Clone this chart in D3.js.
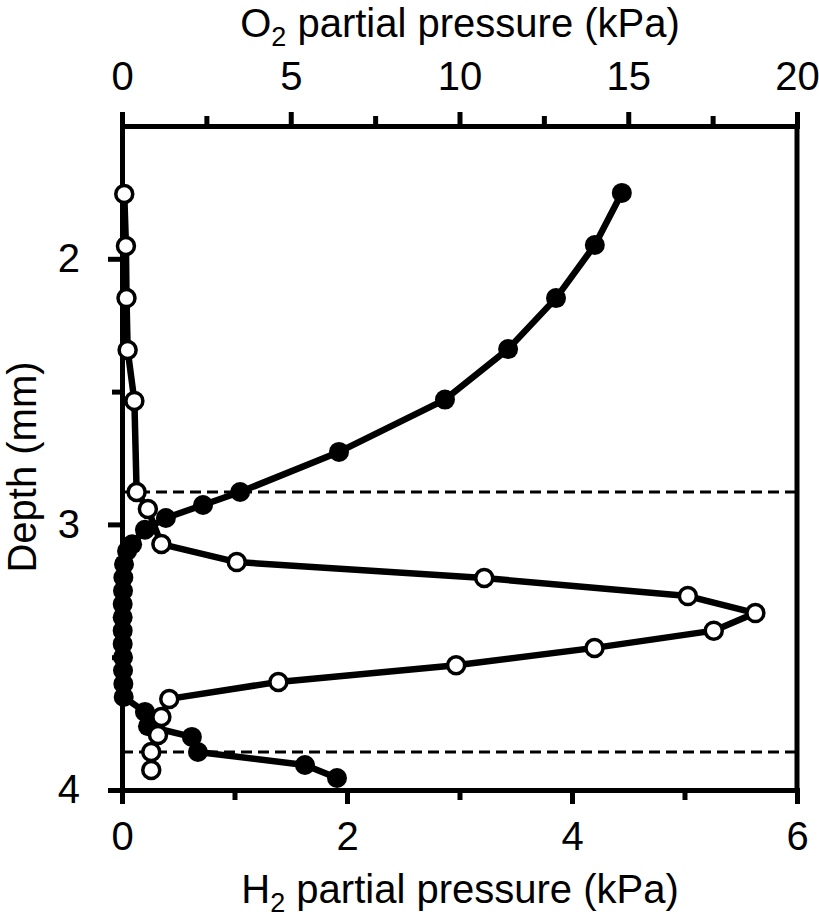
<!DOCTYPE html>
<html>
<head>
<meta charset="utf-8">
<script src="https://cdn.jsdelivr.net/npm/d3@7"></script>
<style>
	body { margin: 0; background: #fff; }
	text { font-family: 'Liberation Sans', Arial, sans-serif; fill: #000; }
</style>
</head>
<body>
<div id="chart"></div>
<script>
// depth (mm) and O2 partial pressure (kPa), filled circles, top axis
const o2Depth = [1.752, 1.948, 2.148, 2.34, 2.53, 2.727, 2.878, 2.927, 2.976, 3.02, 3.075, 3.1, 3.15, 3.2, 3.25, 3.3, 3.35, 3.4, 3.45, 3.5, 3.55, 3.6, 3.65, 3.706, 3.76, 3.8, 3.857, 3.906, 3.955]
const o2Value = [14.81, 14.01, 12.86, 11.44, 9.57, 6.43, 3.5, 2.4, 1.3, 0.68, 0.3, 0.15, 0.06, 0.04, 0.03, 0.02, 0.02, 0.02, 0.02, 0.03, 0.03, 0.04, 0.05, 0.68, 0.77, 2.07, 2.25, 5.42, 6.37]

// depth (mm) and H2 partial pressure (kPa), open circles, bottom axis
const h2Depth = [1.756, 1.952, 2.148, 2.343, 2.535, 2.878, 2.942, 3.074, 3.142, 3.202, 3.27, 3.334, 3.4, 3.465, 3.53, 3.593, 3.657, 3.725, 3.793, 3.857, 3.925]
const h2Value = [0.02, 0.035, 0.04, 0.05, 0.11, 0.13, 0.23, 0.35, 1.02, 3.22, 5.03, 5.63, 5.26, 4.2, 2.97, 1.39, 0.42, 0.35, 0.32, 0.26, 0.26]

// zone boundaries (dashed lines)
const boundaries = [2.878, 3.857]

const depthTicks = [2, 3, 4]
const depthMinor = [2.5, 3.5]
const o2Ticks = [0, 5, 10, 15, 20]
const o2Minor = [2.5, 7.5, 12.5, 17.5]
const h2Ticks = [0, 2, 4, 6]
const h2Minor = [1, 3, 5]

const width = 819
const height = 919
const plotL = 122, plotR = 797, plotT = 126, plotB = 790

const y = d3.scaleLinear().domain([1.5, 4]).range([plotT, plotB])
const xO2 = d3.scaleLinear().domain([0, 20]).range([plotL, plotR])
const xH2 = d3.scaleLinear().domain([0, 6]).range([plotL, plotR])

const svg = d3.select('#chart').append('svg').attr('width', width).attr('height', height)

const styleAxis = (g, size) => {
	g.select('.domain').attr('stroke-width', 5).attr('stroke-linecap', 'square')
	g.selectAll('.tick line').attr('stroke-width', 5)
	g.selectAll('.tick text').attr('font-size', size).style('font-family', "'Liberation Sans', Arial, sans-serif")
}

// minor ticks first, majors + labels on top
svg.append('g').attr('transform', `translate(0,${plotT})`)
	.call(d3.axisTop(xO2).tickValues(o2Minor).tickSize(10).tickSizeOuter(0).tickFormat(''))
	.call(g => styleAxis(g, 40))
svg.append('g').attr('transform', `translate(0,${plotT})`)
	.call(d3.axisTop(xO2).tickValues(o2Ticks).tickSize(14).tickSizeOuter(0).tickPadding(22).tickFormat(d3.format('d')))
	.call(g => styleAxis(g, 40))

svg.append('g').attr('transform', `translate(0,${plotB})`)
	.call(d3.axisBottom(xH2).tickValues(h2Minor).tickSize(10).tickSizeOuter(0).tickFormat(''))
	.call(g => styleAxis(g, 40))
svg.append('g').attr('transform', `translate(0,${plotB})`)
	.call(d3.axisBottom(xH2).tickValues(h2Ticks).tickSize(14).tickSizeOuter(0).tickPadding(18).tickFormat(d3.format('d')))
	.call(g => styleAxis(g, 40))

svg.append('g').attr('transform', `translate(${plotL},0)`)
	.call(d3.axisLeft(y).tickValues(depthMinor).tickSize(10).tickSizeOuter(0).tickFormat(''))
	.call(g => styleAxis(g, 40))
svg.append('g').attr('transform', `translate(${plotL},0)`)
	.call(d3.axisLeft(y).tickValues(depthTicks).tickSize(14).tickSizeOuter(0).tickPadding(28).tickFormat(d3.format('d')))
	.call(g => styleAxis(g, 40))

// right frame line, no ticks
svg.append('line')
	.attr('x1', plotR).attr('x2', plotR)
	.attr('y1', plotT).attr('y2', plotB)
	.attr('stroke', '#000').attr('stroke-width', 5)

// dashed boundaries
svg.selectAll('.boundary')
	.data(boundaries)
	.enter()
	.append('line')
	.attr('class', 'boundary')
	.attr('x1', plotL).attr('x2', plotR)
	.attr('y1', d => y(d)).attr('y2', d => y(d))
	.attr('stroke', '#000').attr('stroke-width', 3)
	.attr('stroke-dasharray', '11,6')

const o2 = o2Depth.map((d, i) => ({ depth: d, value: o2Value[i] }))
const h2 = h2Depth.map((d, i) => ({ depth: d, value: h2Value[i] }))

const o2Line = d3.line().x(d => xO2(d.value)).y(d => y(d.depth))
const h2Line = d3.line().x(d => xH2(d.value)).y(d => y(d.depth))

svg.append('path').datum(o2)
	.attr('d', o2Line)
	.attr('fill', 'none').attr('stroke', '#000').attr('stroke-width', 6.5).attr('stroke-linejoin', 'round')
svg.selectAll('.o2dot')
	.data(o2)
	.enter()
	.append('circle')
	.attr('class', 'o2dot')
	.attr('cx', d => xO2(d.value)).attr('cy', d => y(d.depth))
	.attr('r', 10)
	.attr('fill', '#000')

svg.append('path').datum(h2)
	.attr('d', h2Line)
	.attr('fill', 'none').attr('stroke', '#000').attr('stroke-width', 6.5).attr('stroke-linejoin', 'round')
svg.selectAll('.h2dot')
	.data(h2)
	.enter()
	.append('circle')
	.attr('class', 'h2dot')
	.attr('cx', d => xH2(d.value)).attr('cy', d => y(d.depth))
	.attr('r', 8.5)
	.attr('fill', '#fff').attr('stroke', '#000').attr('stroke-width', 3.5)

// axis titles
const topTitle = svg.append('text').attr('x', 460).attr('y', 37).attr('text-anchor', 'middle').attr('font-size', 40)
topTitle.append('tspan').text('O')
topTitle.append('tspan').attr('font-size', 27).attr('dy', 9).text('2')
topTitle.append('tspan').attr('dy', -9).text(' partial pressure (kPa)')

const bottomTitle = svg.append('text').attr('x', 460).attr('y', 903).attr('text-anchor', 'middle').attr('font-size', 40)
bottomTitle.append('tspan').text('H')
bottomTitle.append('tspan').attr('font-size', 27).attr('dy', 9).text('2')
bottomTitle.append('tspan').attr('dy', -9).text(' partial pressure (kPa)')

svg.append('text')
	.attr('transform', 'translate(36,467) rotate(-90)')
	.attr('text-anchor', 'middle')
	.attr('font-size', 40)
	.text('Depth (mm)')
</script>
</body>
</html>
